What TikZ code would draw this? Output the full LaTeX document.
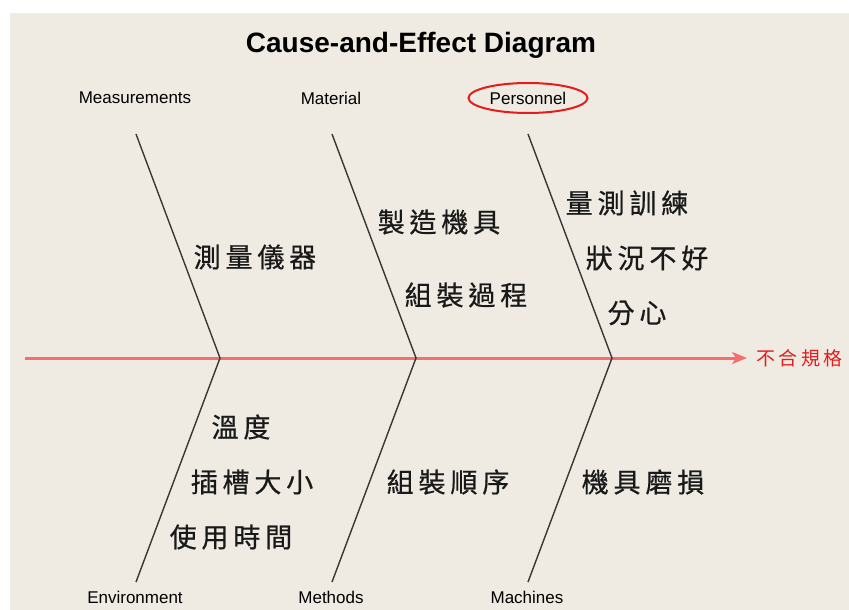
\documentclass[tikz,border=0pt]{standalone}
\usepackage{fontspec}
\setmainfont{Liberation Sans}
\newfontfamily\cjkfont[LetterSpace=18,FakeBold=0.6]{Noto Sans CJK TC}
\newfontfamily\cjkredfont[LetterSpace=18]{Noto Sans CJK TC}
\usetikzlibrary{positioning,arrows.meta}
\definecolor{paper-beige}{RGB}{239,235,226}
\definecolor{spine-red}{RGB}{242,112,112}
\definecolor{mark-red}{RGB}{228,28,28}
\definecolor{bone-gray}{RGB}{55,55,55}
\tikzstyle{titlestyle}=[font=\bfseries\fontsize{28}{28}\selectfont,inner sep=0pt]
\tikzstyle{catstyle}=[font=\fontsize{17}{17}\selectfont,inner sep=0pt]
\tikzstyle{itemstyle}=[font=\cjkfont\fontsize{27}{27}\selectfont,text=black!90,inner sep=0pt]
\tikzstyle{effectstyle}=[font=\cjkredfont\fontsize{19}{19}\selectfont,text=mark-red,anchor=west,inner sep=0pt]
\tikzstyle{bonestyle}=[draw=bone-gray,line width=1.4pt]
\tikzstyle{spinestyle}=[draw=spine-red,line width=3pt,-{Stealth[length=15pt,width=12pt,inset=4pt]}]
\tikzstyle{ringstyle}=[draw=mark-red,line width=2pt]
\newcommand{\fbtopy}{134}
\newcommand{\fbspiney}{358}
\newcommand{\fbboty}{582}
\newcommand{\fbbone}[3]{ \coordinate (#1top) at (#2,\fbtopy); \coordinate (#1mid) at (#3,\fbspiney); \coordinate (#1bot) at (#2,\fbboty); \draw [style=bonestyle] (#1top) -- (#1mid) -- (#1bot); }
\newcommand{\fbcatup}[3]{ \draw (#2,98) node [style=catstyle] (#1) {#3}; }
\newcommand{\fbcatdown}[3]{ \draw (#2,597) node [style=catstyle] (#1) {#3}; }
\newcommand{\fbcause}[4]{ \draw (#3,#4) node [style=itemstyle] (#1) {#2}; }

\begin{document}
\begin{tikzpicture}[x=1pt,y=-1pt]
\useasboundingbox (0,0) rectangle (849,610);
\fill [paper-beige] (10,13) rectangle (849,610);
\draw (421,45) node [style=titlestyle] (title) {Cause-and-Effect Diagram};
\coordinate (tail) at (25,\fbspiney);
\draw (756,\fbspiney) node [style=effectstyle] (effect) {不合規格};
\draw [style=spinestyle] (tail) -- ([xshift=-9pt]effect.west);
\fbbone{meas}{136}{220} %
\fbbone{mat}{332}{416} %
\fbbone{pers}{528}{612} %
\fbcatup{measlab}{135}{Measurements} %
\fbcatup{matlab}{331}{Material} %
\fbcatup{perslab}{528}{Personnel} %
\fbcatdown{envlab}{135}{Environment} %
\fbcatdown{methlab}{331}{Methods} %
\fbcatdown{maclab}{527}{Machines} %
\draw [style=ringstyle] (perslab.center) ellipse (59.5 and 15);
\fbcause{measinst}{測量儀器}{255}{257} %
\fbcause{matjig}{製造機具}{439}{222} %
\fbcause{matasm}{組裝過程}{466}{295} %
\fbcause{pertrain}{量測訓練}{627}{203} %
\fbcause{perstate}{狀況不好}{647}{258} %
\fbcause{perdistr}{分心}{637}{313} %
\fbcause{envtemp}{溫度}{241}{427} %
\fbcause{envslot}{插槽大小}{252}{482} %
\fbcause{envtime}{使用時間}{231}{537} %
\fbcause{metorder}{組裝順序}{448}{482} %
\fbcause{macwear}{機具磨損}{643}{482} %
\end{tikzpicture}
\end{document}
